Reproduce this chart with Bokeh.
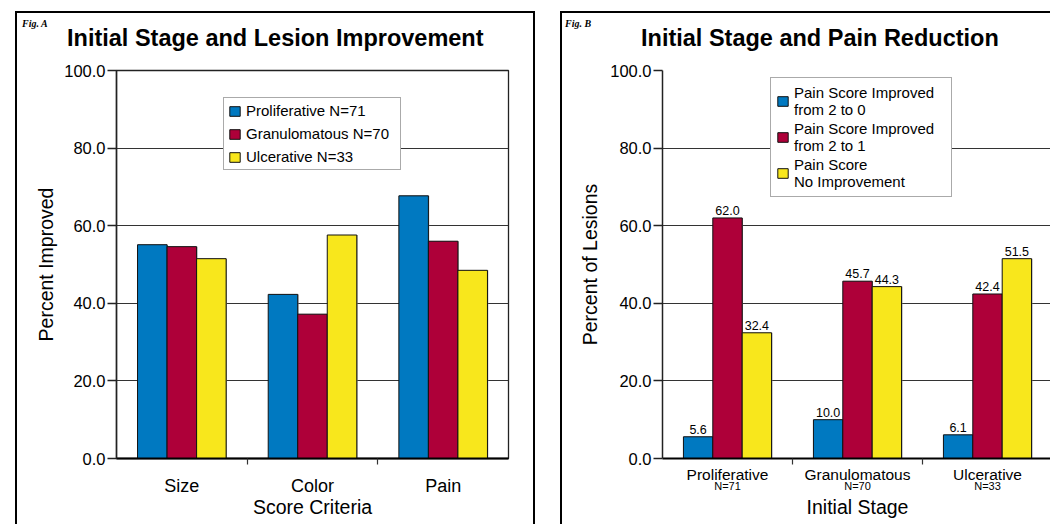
from bokeh.plotting import figure
from bokeh.models import (ColumnDataSource, Range1d, FixedTicker, PrintfTickFormatter,
                          CustomJSTickFormatter, LabelSet, Legend, LegendItem, LinearAxis, Div)
from bokeh.transform import dodge
from bokeh.layouts import row, column
from bokeh.embed import file_html
from bokeh.resources import INLINE
from bokeh.core.properties import value

# ---------------- data ----------------
criteria = ["Size", "Color", "Pain"]
proliferative_a = [55.1, 42.3, 67.7]
granulomatous_a = [54.6, 37.2, 56.0]
ulcerative_a = [51.5, 57.6, 48.5]
legend_a = ["Proliferative N=71", "Granulomatous N=70", "Ulcerative N=33"]

stages = ["Proliferative", "Granulomatous", "Ulcerative"]
stage_n = ["N=71", "N=70", "N=33"]
improved_2_to_0 = [5.6, 10.0, 6.1]
improved_2_to_1 = [62.0, 45.7, 42.4]
no_improvement = [32.4, 44.3, 51.5]
legend_b = ["Pain Score Improved\nfrom 2 to 0",
            "Pain Score Improved\nfrom 2 to 1",
            "Pain Score\nNo Improvement"]

y_ticks = [0, 20, 40, 60, 80, 100]

# ---------------- style ----------------
COLORS = ["#0079C1", "#AE0039", "#F8E71C"]
FONT = "Liberation Sans"
SERIF = "Liberation Serif"
BAR_W = 0.226
OFFSETS = [-BAR_W, 0.0, BAR_W]
BORDER = "2px solid black"
HEAD_H = 45


def cat_formatter(labels):
    return CustomJSTickFormatter(args=dict(labels=labels),
                                 code="const i = Math.floor(tick); return labels[i] || '';")


def header(width, tag, tag_left, title, title_left, borders):
    html = (
        f'<div style="position:relative;width:{width - 4}px;height:{HEAD_H}px;'
        f'margin:0;padding:0;overflow:visible;">'
        f'<span style="position:absolute;left:{tag_left}px;top:5.6px;white-space:nowrap;'
        f"font-family:'{SERIF}';font-size:10px;font-weight:bold;font-style:italic;"
        f'line-height:1;color:black;">{tag}</span>'
        f'<span style="position:absolute;left:{title_left}px;top:13.6px;white-space:nowrap;'
        f"font-family:'{FONT}';font-size:23.5px;font-weight:bold;"
        f'line-height:1;color:black;">{title}</span></div>'
    )
    st = {"background": "white"}
    st.update(borders)
    return Div(text=html, width=width, height=HEAD_H, margin=0, styles=st)


def make_fig(width, b_left, b_right, x_end, outline):
    p = figure(width=width, height=526 - 13 - HEAD_H, x_range=Range1d(0, x_end),
               y_range=Range1d(0, 100), output_backend="svg", toolbar_location=None,
               min_border_left=b_left, min_border_right=b_right,
               min_border_top=59 - HEAD_H, min_border_bottom=66)
    p.margin = 0
    p.background_fill_color = "white"
    p.border_fill_color = "white"
    if outline:
        p.outline_line_color = "#222222"
        p.outline_line_width = 1.3
    else:
        p.outline_line_color = None
    # y axis
    p.yaxis.ticker = FixedTicker(ticks=y_ticks)
    p.yaxis.formatter = PrintfTickFormatter(format="%.1f")
    p.yaxis.major_tick_out = 9
    p.yaxis.major_tick_in = 0
    p.yaxis.minor_tick_out = 0
    p.yaxis.minor_tick_in = 0
    p.yaxis.major_tick_line_color = "#222222"
    p.yaxis.major_tick_line_width = 1.3
    p.yaxis.axis_line_color = "#222222"
    p.yaxis.axis_line_width = 1.5
    p.yaxis.major_label_text_font = FONT
    p.yaxis.major_label_text_font_size = "16.5px"
    p.yaxis.major_label_text_color = "black"
    p.yaxis.major_label_standoff = 2
    p.yaxis.axis_label_text_font = FONT
    p.yaxis.axis_label_text_font_size = "19.5px"
    p.yaxis.axis_label_text_font_style = "normal"
    p.yaxis.axis_label_text_color = "black"
    # x axis: labels at centres, boundary ticks as minor ticks
    p.xaxis.ticker = FixedTicker(ticks=[0.5, 1.5, 2.5], minor_ticks=[1, 2])
    p.xaxis.major_tick_out = 0
    p.xaxis.major_tick_in = 0
    p.xaxis.minor_tick_out = 6
    p.xaxis.minor_tick_in = 0
    p.xaxis.minor_tick_line_color = "#333333"
    p.xaxis.minor_tick_line_width = 1.2
    p.xaxis.axis_line_color = "black"
    p.xaxis.axis_line_width = 2.2
    p.xaxis.major_label_text_font = FONT
    p.xaxis.major_label_text_color = "black"
    p.xaxis.axis_label_text_font = FONT
    p.xaxis.axis_label_text_font_size = "19.5px"
    p.xaxis.axis_label_text_font_style = "normal"
    p.xaxis.axis_label_text_color = "black"
    # grid
    p.xgrid.grid_line_color = None
    p.ygrid.grid_line_color = "#333333"
    p.ygrid.grid_line_width = 1
    return p


def add_bars(p, src, cols):
    rends = []
    for col, off, color in zip(cols, OFFSETS, COLORS):
        p.vbar(x=dodge("x", off + 0.006, range=p.x_range), top=col, width=BAR_W, source=src,
               fill_color="#8c8c8c", line_color=None)
        r = p.vbar(x=dodge("x", off, range=p.x_range), top=col, width=BAR_W, source=src,
                   fill_color=color, line_color="#111111", line_width=1)
        rends.append(r)
    return rends


def style_legend(lg):
    lg.label_text_font = FONT
    lg.label_text_font_size = "15px"
    lg.label_text_color = "black"
    lg.glyph_width = 13
    lg.glyph_height = 12
    lg.label_standoff = 5
    lg.margin = 0
    lg.padding = 4
    lg.border_line_color = "#555555"
    lg.border_line_width = 1
    lg.background_fill_color = "white"
    lg.background_fill_alpha = 1


# ================= Fig A =================
head_a = header(520, "Fig. A", 5, "Initial Stage and Lesion Improvement", 50,
                {"border-left": BORDER, "border-top": BORDER, "border-right": BORDER})
pa = make_fig(520, 99, 29, 3, True)
pa.styles = {"border-left": BORDER, "border-right": BORDER}
src_a = ColumnDataSource(dict(x=[i + 0.5 for i in range(len(criteria))],
                              prolif=proliferative_a, granul=granulomatous_a, ulcer=ulcerative_a))
ra = add_bars(pa, src_a, ["prolif", "granul", "ulcer"])
leg_a = Legend(items=[LegendItem(label=t, renderers=[r]) for t, r in zip(legend_a, ra)],
               location=(107, 288))
style_legend(leg_a)
leg_a.spacing = 6
leg_a.label_height = 16
leg_a.label_width = 150
pa.add_layout(leg_a)
pa.yaxis.axis_label = "Percent Improved"
pa.yaxis.axis_label_standoff = 4
pa.xaxis.formatter = cat_formatter(criteria)
pa.xaxis.major_label_text_font_size = "18px"
pa.xaxis.major_label_standoff = 11
pa.xaxis.axis_label = "Score Criteria"
pa.xaxis.axis_label_standoff = -3

# ================= Fig B =================
head_b = header(490, "Fig. B", 3, "Initial Stage and Pain Reduction", 79,
                {"border-left": BORDER, "border-top": BORDER})
pb = make_fig(490, 100, 0, 3, False)
pb.styles = {"border-left": BORDER}
src_b = ColumnDataSource(dict(x=[i + 0.5 for i in range(len(stages))],
                              v0=improved_2_to_0, v1=improved_2_to_1, v2=no_improvement,
                              t0=[f"{v:.1f}" for v in improved_2_to_0],
                              t1=[f"{v:.1f}" for v in improved_2_to_1],
                              t2=[f"{v:.1f}" for v in no_improvement]))
rb = add_bars(pb, src_b, ["v0", "v1", "v2"])
for col, tcol, off in zip(["v0", "v1", "v2"], ["t0", "t1", "t2"], OFFSETS):
    pb.add_layout(LabelSet(x=dodge("x", off, range=pb.x_range), y=col, text=tcol, source=src_b,
                           y_offset=3, text_align="center", text_baseline="bottom",
                           text_font=value(FONT), text_font_size=value("12.5px"),
                           text_color=value("black")))
leg_b = Legend(items=[LegendItem(label=t, renderers=[r]) for t, r in zip(legend_b, rb)],
               location=(108, 261))
style_legend(leg_b)
leg_b.padding = 5
leg_b.spacing = 0
leg_b.label_height = 36
leg_b.label_width = 152
pb.add_layout(leg_b)
pb.yaxis.axis_label = "Percent of Lesions"
pb.yaxis.axis_label_standoff = 6
pb.xaxis.formatter = cat_formatter(stages)
pb.xaxis.major_label_text_font_size = "15.5px"
pb.xaxis.major_label_standoff = 1
n_axis = LinearAxis(ticker=FixedTicker(ticks=[0.5, 1.5, 2.5]), formatter=cat_formatter(stage_n),
                    axis_line_color=None, major_tick_line_color=None, minor_tick_line_color=None,
                    major_tick_out=0, major_tick_in=0, minor_tick_out=0, minor_tick_in=0,
                    major_label_standoff=-6, major_label_text_font=FONT,
                    major_label_text_font_size="11px", major_label_text_color="black",
                    axis_label="Initial Stage", axis_label_standoff=1,
                    axis_label_text_font=FONT, axis_label_text_font_size="19.5px",
                    axis_label_text_font_style="normal", axis_label_text_color="black")
pb.add_layout(n_axis, "below")

col_a = column(head_a, pa, spacing=0, margin=(11, 0, 0, 15))
col_b = column(head_b, pb, spacing=0, margin=(11, 0, 0, 25))
layout = row(col_a, col_b, spacing=0)
open("out.html", "w").write(file_html(layout, INLINE))
